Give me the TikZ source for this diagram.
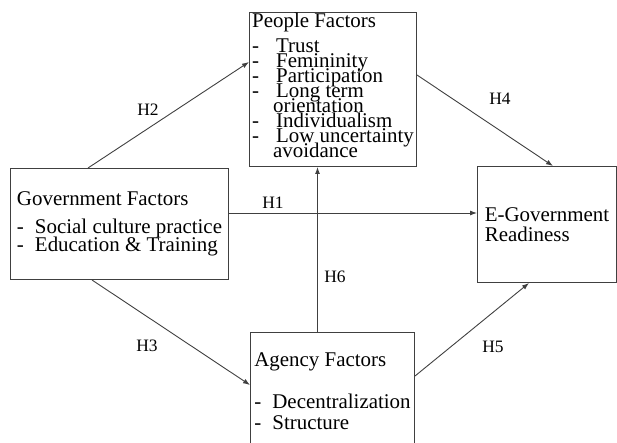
\documentclass[tikz,border=0pt]{standalone}
\usepackage{fontspec}
\setmainfont{Liberation Serif}
\usetikzlibrary{arrows.meta}

% one list entry: dash, then the text after a fixed gap
\newcommand{\dashitem}[2][18bp]{\makebox[#1][l]{-}#2}
% lines in the boxes are set closer than the font would like
\setlength{\lineskiplimit}{-100pt}

\tikzset{
  factorbox/.style={draw=black!75, line width=1bp, anchor=north west,
    align=left, inner sep=0pt, font=\fontsize{21}{#1}\selectfont},
  factorbox/.default=20,
  link/.style={draw=black!75, line width=0.9bp, -{Latex[length=7bp,width=5bp]}},
  hlabel/.style={inner sep=0pt, font=\fontsize{17.5}{20}\selectfont}
}

\begin{document}
\begin{tikzpicture}[x=1bp,y=-1bp]
\useasboundingbox (0,0) rectangle (617,443);

% boxes
\node[factorbox=18, minimum width=218bp, minimum height=111bp] (gov) at (10,168)
  {Government Factors\\[10bp]
   \dashitem{Social culture practice}\\
   \dashitem{Education \& Training}};
\node[factorbox=15, minimum width=167bp, minimum height=154bp] (people) at (249,12)
  {People Factors\\[10bp]
   \dashitem[24bp]{Trust}\\
   \dashitem[24bp]{Femininity}\\
   \dashitem[24bp]{Participation}\\
   \dashitem[24bp]{Long term}\\
   \hspace*{21bp}orientation\\
   \dashitem[24bp]{Individualism}\\
   \dashitem[24bp]{Low uncertainty}\\
   \hspace*{21bp}avoidance\rule[-8bp]{0pt}{8bp}};
\node[factorbox=21, minimum width=164bp, minimum height=118bp] (agency) at (250,332)
  {Agency Factors\\[21bp]
   \dashitem{Decentralization}\\
   \dashitem{Structure}};
\node[factorbox=20, minimum width=139bp, minimum height=116bp] (egov) at (477,166)
  {E-Government\\Readiness};

% hypotheses
\draw[link] ([yshift=11bp]gov.east) -- ([yshift=11bp]gov.east -| egov.west);
\draw[link] ([xshift=78bp]gov.north west) -- ([yshift=-50bp]people.north west);
\draw[link] ([xshift=82bp]gov.south west) -- ([yshift=-53bp]agency.north west);
\draw[link] ([yshift=-63bp]people.north east) -- ([xshift=-64bp]egov.north east);
\draw[link] ([yshift=-44bp]agency.north east) -- ([xshift=52bp]egov.south west);
\draw[link] ([xshift=-15bp]agency.north) -- ([xshift=-15bp]agency.north |- people.south);

\node[hlabel] (h1) at (273,203) {H1};
\node[hlabel] (h2) at (148,110) {H2};
\node[hlabel] (h3) at (147,346) {H3};
\node[hlabel] (h4) at (500,99) {H4};
\node[hlabel] (h5) at (493,347) {H5};
\node[hlabel] (h6) at (335,277) {H6};
\end{tikzpicture}
\end{document}
